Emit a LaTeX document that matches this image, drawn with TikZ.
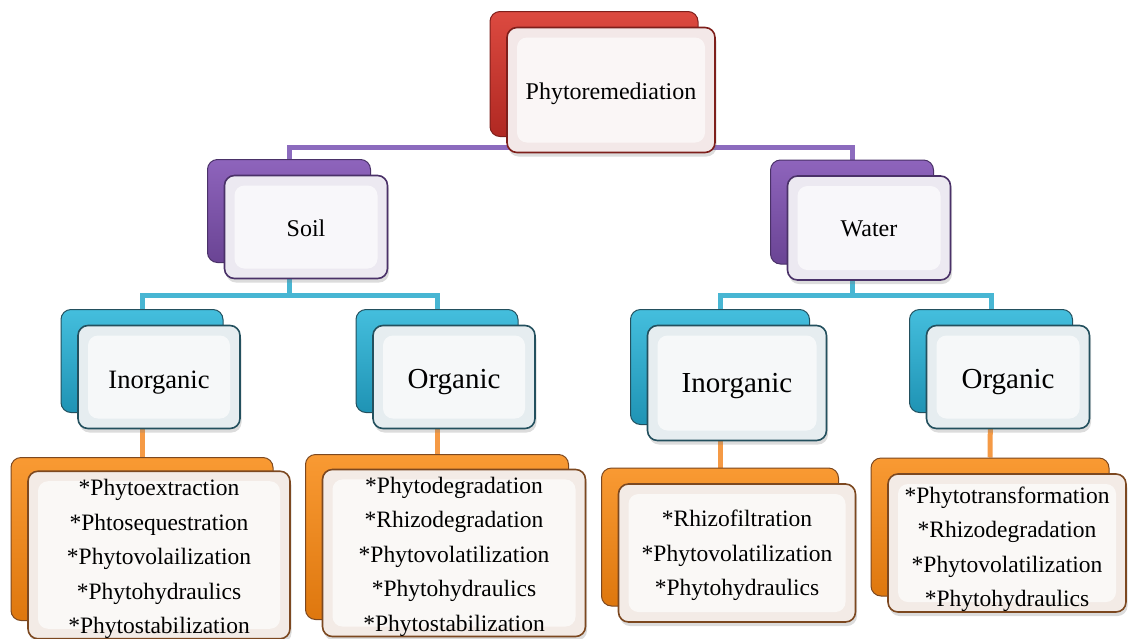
\documentclass[tikz,border=0pt]{standalone}
\usepackage{fontspec}
\setmainfont{Liberation Serif}
\usetikzlibrary{shadows, backgrounds, positioning}

\definecolor{redtop}{HTML}{DC4A40}
\definecolor{redbot}{HTML}{B02822}
\definecolor{redline}{HTML}{7E1F1B}
\definecolor{redtint}{HTML}{F3E8E8}
\definecolor{purtop}{HTML}{8E64BC}
\definecolor{purbot}{HTML}{6A4494}
\definecolor{purline}{HTML}{4A3168}
\definecolor{purtint}{HTML}{ECE9F1}
\definecolor{purlink}{HTML}{8C6BBE}
\definecolor{cyantop}{HTML}{44BEDD}
\definecolor{cyanbot}{HTML}{1F93B4}
\definecolor{cyanline}{HTML}{23505E}
\definecolor{cyantint}{HTML}{E6EDF0}
\definecolor{cyanlink}{HTML}{48B6D3}
\definecolor{orgtop}{HTML}{F99A33}
\definecolor{orgbot}{HTML}{DE770E}
\definecolor{orgline}{HTML}{7C4820}
\definecolor{orgtint}{HTML}{F3EBE6}
\definecolor{orglink}{HTML}{F59A45}

% strut that pushes the text of a box down
\newcommand{\dn}[1]{\rule{0pt}{#1pt}}

\tikzset{
    backbox/.style={rectangle, rounded corners=10pt, line width=1pt, inner sep=0pt},
    frontbox/.style={rectangle, rounded corners=10pt, line width=1.6pt, align=center, inner sep=0pt,
                drop shadow={opacity=.28, shadow xshift=1.5pt, shadow yshift=-4pt},
                path picture={\fill[white, opacity=.65]
                    ([shift={(10pt,-10pt)}]path picture bounding box.north west) rectangle
                    ([shift={(-10pt,10pt)}]path picture bounding box.south east);}},
    sz/.style 2 args={minimum width=#1pt, minimum height=#2pt},
    redback/.style={backbox, top color=redtop, bottom color=redbot, draw=redline},
    redfront/.style={frontbox, fill=redtint, draw=redline},
    purback/.style={backbox, top color=purtop, bottom color=purbot, draw=purline},
    purfront/.style={frontbox, fill=purtint, draw=purline},
    cyanback/.style={backbox, top color=cyantop, bottom color=cyanbot, draw=cyanline},
    cyanfront/.style={frontbox, fill=cyantint, draw=cyanline},
    orgback/.style={backbox, top color=orgtop, bottom color=orgbot, draw=orgline},
    orgfront/.style={frontbox, fill=orgtint, draw=orgline},
    link/.style={line width=5pt},
    big/.style={font=\fontsize{24}{29}\selectfont},
    bigger/.style={font=\fontsize{29}{34}\selectfont},
    lst/.style={font=\fontsize{23.5}{34.5}\selectfont},
}

\begin{document}
\begin{tikzpicture}[x=1pt, y=-1pt]
    \useasboundingbox (0,0) rectangle (1128,638);

    % top
    \node[redback, sz={208}{125}] (rootback) at (594,74) {};
    \node[redfront, sz={208}{125}, big] (root) at ([shift={(17pt,-16pt)}]rootback.center) {\dn{24.5}Phytoremediation};

    % media
    \node[purback, sz={163}{103}] (soilback) at (289,211) {};
    \node[purfront, sz={163}{103}, big] (soil) at ([shift={(17pt,-16pt)}]soilback.center) {\dn{18.5}Soil};
    \node[purback, sz={163}{104}] (waterback) at (852,212) {};
    \node[purfront, sz={163}{104}, big] (water) at ([shift={(17pt,-16pt)}]waterback.center) {\dn{18}Water};

    % pollutant type
    \node[cyanback, sz={162}{103}] (soilinorgback) at (142,361) {};
    \node[cyanfront, sz={162}{103}, font=\fontsize{26.5}{31}\selectfont] (soilinorg) at ([shift={(17pt,-16pt)}]soilinorgback.center) {\dn{28}Inorganic};
    \node[cyanback, sz={162}{103}] (soilorgback) at (437,361) {};
    \node[cyanfront, sz={162}{103}, bigger] (soilorg) at ([shift={(17pt,-16pt)}]soilorgback.center) {\dn{30}Organic};
    \node[cyanback, sz={179}{115}] (waterinorgback) at (720,367) {};
    \node[cyanfront, sz={179}{115}, bigger] (waterinorg) at ([shift={(17pt,-16pt)}]waterinorgback.center) {\dn{26}Inorganic};
    \node[cyanback, sz={163}{103}] (waterorgback) at (991,361) {};
    \node[cyanfront, sz={163}{103}, bigger] (waterorg) at ([shift={(17pt,-16pt)}]waterorgback.center) {\dn{30}Organic};

    % techniques
    \node[orgback, sz={262}{163}] (soilinorglistback) at (142,539) {};
    \node[orgfront, sz={262}{163}, lst] (soilinorglist) at ([shift={(17pt,-16pt)}]soilinorglistback.center)
        {\dn{24.5}*Phytoextraction\\*Phtosequestration\\*Phytovolailization\\*Phytohydraulics\\*Phytostabilization};
    \node[orgback, sz={263}{165}] (soilorglistback) at (437,537) {};
    \node[orgfront, sz={263}{165}, lst] (soilorglist) at ([shift={(17pt,-16pt)}]soilorglistback.center)
        {\dn{24}*Phytodegradation\\*Rhizodegradation\\*Phytovolatilization\\*Phytohydraulics\\*Phytostabilization};
    \node[orgback, sz={237}{138}] (waterinorglistback) at (720,537) {};
    \node[orgfront, sz={237}{138}, lst] (waterinorglist) at ([shift={(17pt,-16pt)}]waterinorglistback.center)
        {\dn{22}*Rhizofiltration\\*Phytovolatilization\\*Phytohydraulics};
    \node[orgback, sz={238}{138}] (waterorglistback) at (990,527) {};
    \node[orgfront, sz={238}{138}, lst] (waterorglist) at ([shift={(17pt,-16pt)}]waterorglistback.center)
        {\dn{29}*Phytotransformation\\*Rhizodegradation\\*Phytovolatilization\\*Phytohydraulics};

    \begin{pgfonlayer}{background}
        \draw[link, purlink] (rootback.center) |- ([yshift=12pt]soilback.north) -- (soilback.north);
        \draw[link, purlink] (rootback.center) |- ([yshift=12pt]waterback.north) -- (waterback.north);
        \draw[link, cyanlink] (soilback.center) |- ([yshift=13.5pt]soilinorgback.north) -- (soilinorgback.north);
        \draw[link, cyanlink] (soilback.center) |- ([yshift=13.5pt]soilorgback.north) -- (soilorgback.north);
        \draw[link, cyanlink] (waterback.center) |- ([yshift=13.5pt]waterinorgback.north) -- (waterinorgback.north);
        \draw[link, cyanlink] (waterback.center) |- ([yshift=13.5pt]waterorgback.north) -- (waterorgback.north);
        \draw[link, orglink] (soilinorgback.center) -- (soilinorglistback.north);
        \draw[link, orglink] (soilorgback.center) -- (soilorglistback.north);
        \draw[link, orglink] (waterinorgback.center) -- (waterinorglistback.north);
        \draw[link, orglink] (waterorgback.center) -- (waterorglistback.north);
    \end{pgfonlayer}
\end{tikzpicture}
\end{document}
